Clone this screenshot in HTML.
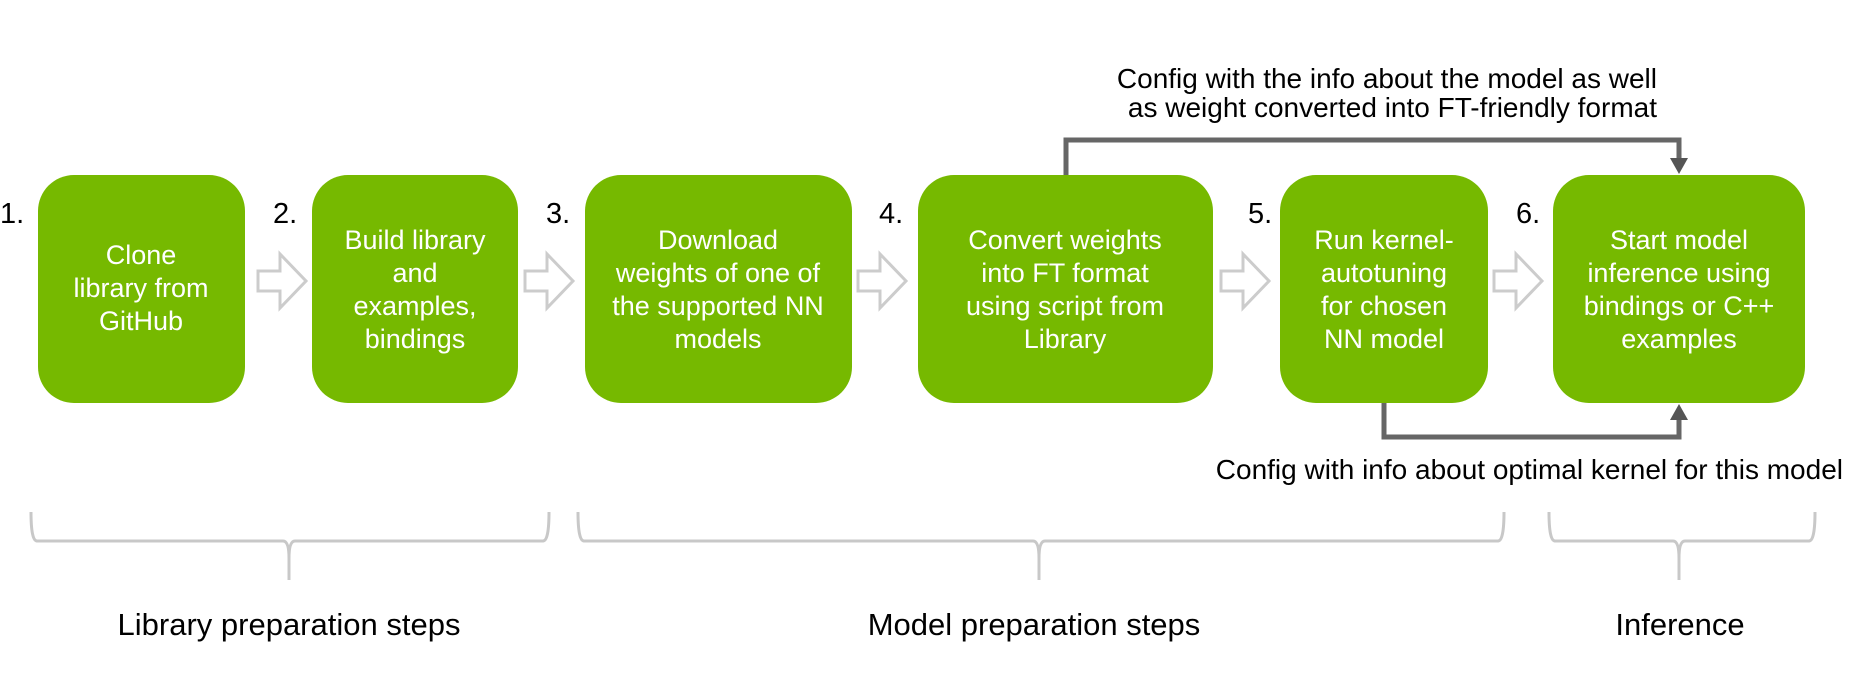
<!DOCTYPE html>
<html><head><meta charset="utf-8"><style>
html,body{margin:0;padding:0;background:#fff;}
svg{display:block;}
text{font-family:"Liberation Sans Narrow","Liberation Sans",sans-serif;}
</style></head><body>
<svg width="1858" height="684" viewBox="0 0 1858 684" xmlns="http://www.w3.org/2000/svg">
<g fill="#76b900">
<rect x="38" y="175" width="207" height="228" rx="36"/>
<rect x="312" y="175" width="206" height="228" rx="36"/>
<rect x="585" y="175" width="267" height="228" rx="36"/>
<rect x="918" y="175" width="295" height="228" rx="36"/>
<rect x="1280" y="175" width="208" height="228" rx="36"/>
<rect x="1553" y="175" width="252" height="228" rx="36"/>
</g>
<g font-size="29" fill="#000">
<text x="0" y="223">1.</text>
<text x="273" y="223">2.</text>
<text x="546" y="223">3.</text>
<text x="879" y="223">4.</text>
<text x="1248" y="223">5.</text>
<text x="1516" y="223">6.</text>
</g>
<g font-size="27" fill="#fff" text-anchor="middle">
<text x="141" y="264">Clone</text><text x="141" y="297">library from</text><text x="141" y="330">GitHub</text>
<text x="415" y="249">Build library</text><text x="415" y="282">and</text><text x="415" y="315">examples,</text><text x="415" y="348">bindings</text>
<text x="718" y="249">Download</text><text x="718" y="282">weights of one of</text><text x="718" y="315">the supported NN</text><text x="718" y="348">models</text>
<text x="1065" y="249">Convert weights</text><text x="1065" y="282">into FT format</text><text x="1065" y="315">using script from</text><text x="1065" y="348">Library</text>
<text x="1384" y="249">Run kernel-</text><text x="1384" y="282">autotuning</text><text x="1384" y="315">for chosen</text><text x="1384" y="348">NN model</text>
<text x="1679" y="249">Start model</text><text x="1679" y="282">inference using</text><text x="1679" y="315">bindings or C++</text><text x="1679" y="348">examples</text>
</g>
<g fill="#fff" stroke="#cccccc" stroke-width="3">
<path d="M258 271 h22 v-17 l26 27 l-26 27 v-17 h-22 z"/>
<path d="M525 271 h22 v-17 l26 27 l-26 27 v-17 h-22 z"/>
<path d="M858 271 h22 v-17 l26 27 l-26 27 v-17 h-22 z"/>
<path d="M1221 271 h22 v-17 l26 27 l-26 27 v-17 h-22 z"/>
<path d="M1494 271 h22 v-17 l26 27 l-26 27 v-17 h-22 z"/>
</g>
<g fill="none" stroke="#666" stroke-width="5">
<path d="M1066 175 V140 H1679 V160"/>
<path d="M1384 403 V437 H1679 V418"/>
</g>
<g fill="#555">
<path d="M1670 158 h18 l-9 16 z"/>
<path d="M1670 420 h18 l-9 -16 z"/>
</g>
<g font-size="28" fill="#000">
<text x="1657" y="88" text-anchor="end">Config with the info about the model as well</text>
<text x="1657" y="117" text-anchor="end">as weight converted into FT-friendly format</text>
<text x="1843" y="479" text-anchor="end">Config with info about optimal kernel for this model</text>
</g>
<g fill="none" stroke="#c8c8c8" stroke-width="3">
<path d="M31 512 Q31 541 37 541 H283 Q289 541 289 558 V580 M289 558 Q289 541 295 541 H543 Q549 541 549 512"/>
<path d="M578 512 Q578 541 584 541 H1033 Q1039 541 1039 558 V580 M1039 558 Q1039 541 1045 541 H1498 Q1504 541 1504 512"/>
<path d="M1549 512 Q1549 541 1555 541 H1673 Q1679 541 1679 558 V580 M1679 558 Q1679 541 1685 541 H1809 Q1815 541 1815 512"/>
</g>
<g font-size="31" fill="#000" text-anchor="middle">
<text x="289" y="635">Library preparation steps</text>
<text x="1034" y="635">Model preparation steps</text>
<text x="1680" y="635">Inference</text>
</g>
</svg>
</body></html>
